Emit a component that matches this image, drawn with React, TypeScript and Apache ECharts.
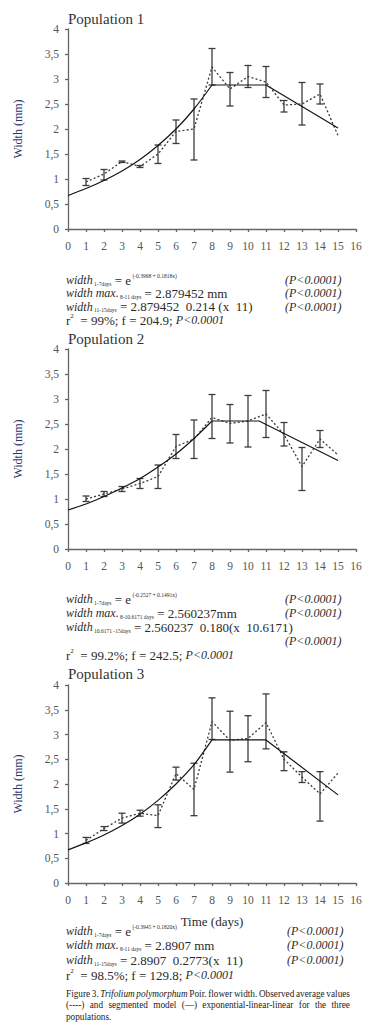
import React, { useEffect, useRef } from "react";
import * as echarts from "echarts";

// ---------------- DATA ----------------
const days = [1, 2, 3, 4, 5, 6, 7, 8, 9, 10, 11, 12, 13, 14, 15];
const errDays = [1, 2, 3, 4, 5, 6, 7, 8, 9, 10, 11, 12, 13, 14];
const yTicks = [0, 0.5, 1, 1.5, 2, 2.5, 3, 3.5, 4];

// Population 1
const pop1Mean = [0.94, 1.1, 1.35, 1.25, 1.5, 1.95, 2.0, 3.24, 2.8, 3.05, 2.94, 2.48, 2.5, 2.7, 1.87];
const pop1Low = [0.87, 0.98, 1.33, 1.23, 1.31, 1.71, 1.38, 2.88, 2.46, 2.83, 2.63, 2.34, 2.08, 2.5];
const pop1High = [1.01, 1.19, 1.36, 1.27, 1.68, 2.18, 2.6, 3.61, 3.13, 3.27, 3.25, 2.57, 2.93, 2.9];
const pop1CurveX = [0, 1, 2, 3, 4, 5, 6, 7, 8];
const pop1CurveY = [0.67, 0.81, 0.97, 1.16, 1.39, 1.67, 2.0, 2.4, 2.88];
const pop1LinX = [8, 11, 15];
const pop1LinY = [2.88, 2.88, 2.02];

// Population 2
const pop2Mean = [1.0, 1.1, 1.2, 1.31, 1.45, 2.05, 2.2, 2.63, 2.51, 2.56, 2.7, 2.29, 1.65, 2.2, 1.88];
const pop2Low = [0.95, 1.05, 1.15, 1.21, 1.21, 1.81, 1.81, 2.21, 2.12, 2.04, 2.23, 2.06, 1.17, 2.03];
const pop2High = [1.06, 1.15, 1.25, 1.41, 1.68, 2.29, 2.58, 3.09, 2.89, 3.07, 3.17, 2.53, 2.03, 2.37];
const pop2CurveX = [0, 1, 2, 3, 4, 5, 6, 7, 8];
const pop2CurveY = [0.78, 0.9, 1.05, 1.22, 1.41, 1.64, 1.9, 2.21, 2.56];
const pop2LinX = [8, 10.6171, 15];
const pop2LinY = [2.56, 2.56, 1.77];

// Population 3
const pop3Mean = [0.86, 1.1, 1.31, 1.41, 1.36, 2.21, 1.89, 3.26, 2.88, 2.92, 3.24, 2.5, 2.14, 1.8, 2.22];
const pop3Low = [0.8, 1.06, 1.21, 1.35, 1.12, 2.08, 1.36, 2.9, 2.24, 2.45, 2.71, 2.27, 2.03, 1.25];
const pop3High = [0.92, 1.14, 1.41, 1.47, 1.58, 2.34, 2.42, 3.74, 3.47, 3.38, 3.82, 2.65, 2.25, 2.25];
const pop3CurveX = [0, 1, 2, 3, 4, 5, 6, 7, 8];
const pop3CurveY = [0.67, 0.81, 0.97, 1.16, 1.39, 1.67, 2.0, 2.39, 2.89];
const pop3LinX = [8, 11, 15];
const pop3LinY = [2.89, 2.89, 1.78];

const titles = ["Population 1", "Population 2", "Population 3"];

// ---------------- TEXT HELPERS ----------------
const SERIF = "Liberation Serif";
let _ctx: CanvasRenderingContext2D | null = null;
function measure(s: string, size: number, italic: boolean) {
  if (!_ctx) _ctx = document.createElement("canvas").getContext("2d");
  _ctx!.font = `${italic ? "italic " : ""}${size}px "${SERIF}"`;
  return _ctx!.measureText(s).width;
}

function textEl(text: string, x: number, y: number, size: number, italic = false, color = "#2b2b2b", scaleX = 1) {
  return {
    type: "text",
    x,
    y,
    scaleX,
    silent: true,
    style: {
      text,
      fontFamily: SERIF,
      fontSize: size,
      fontStyle: italic ? "italic" : "normal",
      fill: color,
      textAlign: "left",
      textVerticalAlign: "middle",
    },
  };
}

const KIND: any = {
  it: { size: 12, italic: true, dy: 0 },
  n: { size: 13, italic: false, dy: 0 },
  sub: { size: 5.5, italic: false, dy: 3.5 },
  sup: { size: 5.5, italic: false, dy: -4.5 },
  sup2: { size: 7, italic: false, dy: -4 },
};

function flowRow(pieces: [string, string][], x0: number, y: number) {
  const els: any[] = [];
  let x = x0;
  for (const [t, k] of pieces) {
    const s = KIND[k];
    els.push(textEl(t, x, y + s.dy, s.size, s.italic));
    x += measure(t, s.size, s.italic);
  }
  return els;
}

function pCol(x: number, y: number) {
  return textEl("(P<0.0001)", x, y, 12, true);
}

// justified caption line: each word its own (horizontally condensed) text
function captionLine(words: [string, boolean][], x0: number, x1: number, y: number, size: number, scale: number, justify: boolean) {
  const widths = words.map(([w, it]) => measure(w, size, it) * scale);
  const total = widths.reduce((a, b) => a + b, 0);
  const space = measure(" ", size, false) * scale;
  const gap = justify && words.length > 1 ? (x1 - x0 - total) / (words.length - 1) : space;
  const els: any[] = [];
  let x = x0;
  words.forEach(([w, it], i) => {
    els.push(textEl(w, x, y, size, it, "#222", scale));
    x += widths[i] + gap;
  });
  return els;
}

// ---------------- CHART ----------------
function errSeries(idx: number, low: number[], high: number[]) {
  return {
    type: "custom",
    xAxisIndex: idx,
    yAxisIndex: idx,
    silent: true,
    z: 2,
    data: errDays.map((d, i) => [d, low[i], high[i]]),
    encode: { x: 0, y: [1, 2] },
    renderItem: (params: any, api: any) => {
      const x = api.value(0);
      const lo = api.coord([x, api.value(1)]);
      const hi = api.coord([x, api.value(2)]);
      const hw = 3.5;
      const st = { stroke: "#3c3c3c", lineWidth: 1.3 };
      return {
        type: "group",
        children: [
          { type: "line", shape: { x1: lo[0], y1: lo[1], x2: hi[0], y2: hi[1] }, style: st },
          { type: "line", shape: { x1: hi[0] - hw, y1: hi[1], x2: hi[0] + hw, y2: hi[1] }, style: st },
          { type: "line", shape: { x1: lo[0] - hw, y1: lo[1], x2: lo[0] + hw, y2: lo[1] }, style: st },
        ],
      };
    },
  };
}

function lineSeries(idx: number, xs: number[], ys: number[], dotted: boolean, smooth: number | boolean) {
  return {
    type: "line",
    xAxisIndex: idx,
    yAxisIndex: idx,
    silent: true,
    z: dotted ? 3 : 4,
    showSymbol: false,
    symbol: "none",
    smooth,
    data: xs.map((x, i) => [x, ys[i]]),
    lineStyle: dotted
      ? { color: "#3a3a3a", width: 1.3, type: [2, 2.2] }
      : { color: "#151515", width: 1.2, type: "solid" },
  };
}

function buildOption() {
  const grids = [
    { left: 68, top: 29, width: 288, height: 200 },
    { left: 68, top: 349, width: 288, height: 200 },
    { left: 68, top: 685, width: 288, height: 198 },
  ];
  const axisLineStyle = { color: "#666", width: 1.3 };
  const xAxis = grids.map((_, i) => ({
    type: "value",
    gridIndex: i,
    min: 0,
    max: 16,
    interval: 1,
    axisLine: { show: true, onZero: false, lineStyle: axisLineStyle },
    axisTick: { show: true, inside: false, length: 3, lineStyle: axisLineStyle },
    axisLabel: { color: "#555", fontFamily: SERIF, fontSize: 11.5, margin: 11 },
    splitLine: { show: false },
    name: i === 2 ? "Time (days)" : "",
    nameLocation: "middle",
    nameGap: 32,
    nameTextStyle: { fontFamily: SERIF, fontSize: 13, color: "#2b2b2b" },
  }));
  const yAxis = grids.map((_, i) => ({
    type: "value",
    gridIndex: i,
    min: yTicks[0],
    max: yTicks[yTicks.length - 1],
    interval: 0.5,
    axisLine: { show: true, lineStyle: axisLineStyle },
    axisTick: { show: true, inside: false, length: 3, lineStyle: axisLineStyle },
    axisLabel: {
      color: "#555",
      fontFamily: SERIF,
      fontSize: 11.5,
      margin: 9,
      formatter: (v: number) => String(v).replace(".", ","),
    },
    splitLine: { show: false },
    name: "Width (mm)",
    nameLocation: "middle",
    nameGap: 44,
    nameRotate: 90,
    nameTextStyle: { fontFamily: SERIF, fontSize: 12, color: "#2a3466" },
  }));

  const series = [
    errSeries(0, pop1Low, pop1High),
    lineSeries(0, days, pop1Mean, true, false),
    lineSeries(0, pop1CurveX, pop1CurveY, false, 0.3),
    lineSeries(0, pop1LinX, pop1LinY, false, false),
    errSeries(1, pop2Low, pop2High),
    lineSeries(1, days, pop2Mean, true, false),
    lineSeries(1, pop2CurveX, pop2CurveY, false, 0.3),
    lineSeries(1, pop2LinX, pop2LinY, false, false),
    errSeries(2, pop3Low, pop3High),
    lineSeries(2, days, pop3Mean, true, false),
    lineSeries(2, pop3CurveX, pop3CurveY, false, 0.3),
    lineSeries(2, pop3LinX, pop3LinY, false, false),
  ];

  const X0 = 66;
  const g: any[] = [];
  g.push(textEl(titles[0], 68, 19, 15, false, "#333"));
  g.push(textEl(titles[1], 68, 339, 15, false, "#333"));
  g.push(textEl(titles[2], 68, 674, 15, false, "#333"));

  // Block 1
  g.push(...flowRow([["width", "it"], [" 1-7days", "sub"], [" = e", "n"], [" (-0.3968 + 0.1818x)", "sup"]], X0, 280));
  g.push(pCol(285, 280));
  g.push(...flowRow([["width max.", "it"], [" 8-11 days", "sub"], [" = 2.879452 mm", "n"]], X0, 293));
  g.push(pCol(285, 293));
  g.push(...flowRow([["width", "it"], [" 11-15days", "sub"], [" = 2.879452  0.214 (x  11)", "n"]], X0, 306.5));
  g.push(pCol(285, 306.5));
  g.push(...flowRow([["r", "n"], ["2", "sup2"], ["  = 99%; f = 204.9; ", "n"], ["P<0.0001", "it"]], X0, 320));

  // Block 2
  g.push(...flowRow([["width", "it"], [" 1-7days", "sub"], [" = e", "n"], [" (-0.2527 + 0.1491x)", "sup"]], X0, 599));
  g.push(pCol(285, 599));
  g.push(...flowRow([["width max.", "it"], [" 8-10.6171 days", "sub"], [" = 2.560237mm", "n"]], X0, 613));
  g.push(pCol(285, 613));
  g.push(...flowRow([["width", "it"], [" 10.6171 -15days", "sub"], [" = 2.560237  0.180(x  10.6171)", "n"]], X0, 627));
  g.push(pCol(285, 641));
  g.push(...flowRow([["r", "n"], ["2", "sup2"], ["  = 99.2%; f = 242.5; ", "n"], ["P<0.0001", "it"]], X0, 655));

  // Block 3
  g.push(...flowRow([["width", "it"], [" 1-7days", "sub"], [" = e", "n"], [" (-0.3945 + 0.1820x)", "sup"]], X0, 931));
  g.push(pCol(287, 931));
  g.push(...flowRow([["width max.", "it"], [" 8-11 days", "sub"], [" = 2.8907 mm", "n"]], X0, 945));
  g.push(pCol(287, 945));
  g.push(...flowRow([["width", "it"], [" 11-15days", "sub"], [" = 2.8907  0.2773(x  11)", "n"]], X0, 960));
  g.push(pCol(287, 960));
  g.push(...flowRow([["r", "n"], ["2", "sup2"], ["  = 98.5%; f = 129.8; ", "n"], ["P<0.0001", "it"]], X0, 975));

  // Caption (justified, slightly condensed)
  const capSize = 10.5;
  const line1: [string, boolean][] = [
    ["Figure", false], ["3.", false], ["Trifolium", true], ["polymorphum", true], ["Poir.", false],
    ["flower", false], ["width.", false], ["Observed", false], ["average", false], ["values", false],
  ];
  const line2: [string, boolean][] = [
    ["(----)", false], ["and", false], ["segmented", false], ["model", false], ["(\u2014)", false],
    ["exponential-linear-linear", false], ["for", false], ["the", false], ["three", false],
  ];
  const line3: [string, boolean][] = [["populations.", false]];
  const capX0 = 66, capX1 = 350;
  const words1 = line1.reduce((a, [w, it]) => a + measure(w, capSize, it), 0);
  const capScale = Math.min(1, (capX1 - capX0 - (line1.length - 1) * 1.6) / words1);
  g.push(...captionLine(line1, capX0, capX1, 993, capSize, capScale, true));
  g.push(...captionLine(line2, capX0, capX1, 1004.5, capSize, capScale, true));
  g.push(...captionLine(line3, capX0, capX1, 1016, capSize, capScale, false));

  return {
    animation: false,
    backgroundColor: "#ffffff",
    grid: grids,
    xAxis,
    yAxis,
    series,
    graphic: g,
  };
}

export default function App() {
  const ref = useRef<HTMLDivElement>(null);
  useEffect(() => {
    if (!ref.current) return;
    const chart = echarts.init(ref.current, undefined, { renderer: "svg" });
    chart.setOption(buildOption() as any);
    return () => chart.dispose();
  }, []);
  return (
    <div
      ref={ref}
      style={{ position: "absolute", left: 0, top: 0, width: 380, height: 1034, background: "#fff" }}
    />
  );
}
